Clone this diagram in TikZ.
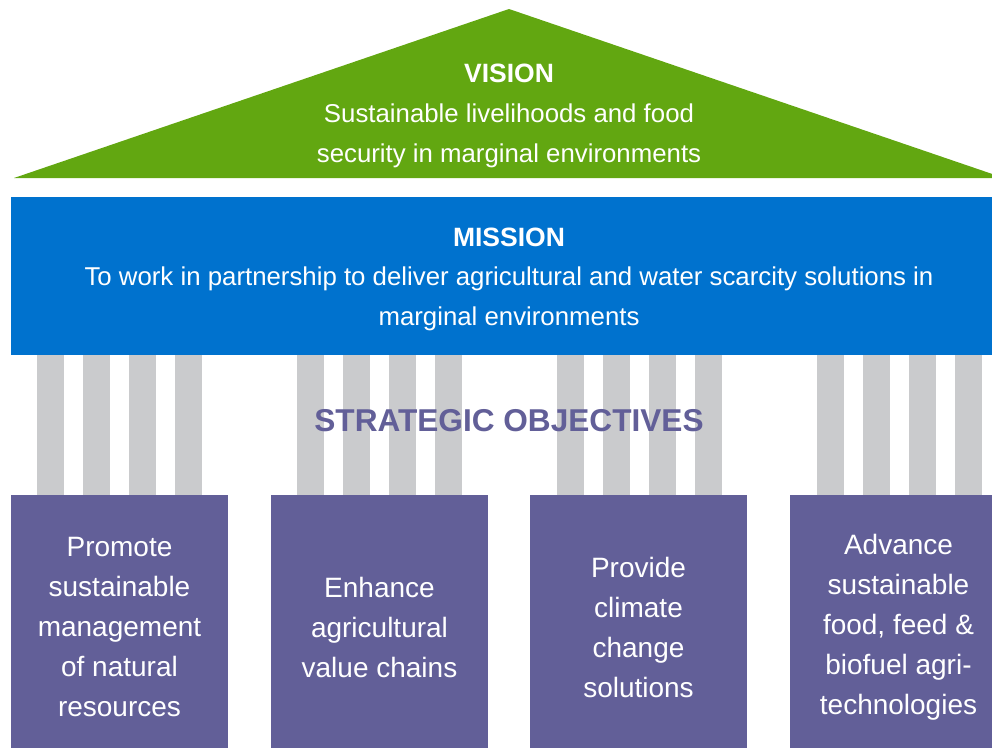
\documentclass[tikz,border=0pt]{standalone}
\usepackage{fontspec}
\setmainfont{Liberation Sans}
\definecolor{visiongreen}{RGB}{98,167,17}
\definecolor{missionblue}{RGB}{0,114,206}
\definecolor{pillargrey}{RGB}{202,203,205}
\definecolor{objpurple}{RGB}{98,95,152}
\tikzset{
  headtext/.style = {text=white, font=\fontsize{26.5}{40}\selectfont\bfseries},
  bodytext/.style = {text=white, align=center, font=\fontsize{25.8}{40}\selectfont},
  objbox/.style = {fill=objpurple, text=white, align=center, inner sep=0pt,
    minimum width=217pt, minimum height=264pt, font=\fontsize{28}{40}\selectfont}
}
\begin{document}
\begin{tikzpicture}[x=1pt, y=-1pt]
    \useasboundingbox (0,0) rectangle (992,747);
    \clip (0,0) rectangle (992,747);

    % roof
    \fill[visiongreen] (14,178) -- (509,9) -- (1004,178) -- cycle;
    \node[headtext] (vision) at (509,73) {VISION};
    \node[bodytext] (visiontext) at (509,136) {Sustainable livelihoods and food\\security in marginal environments};

    % beam
    \fill[missionblue] (11,197) rectangle (1007,355);
    \node[headtext] (mission) at (509,237) {MISSION};
    \node[bodytext] (missiontext) at (509,299) {To work in partnership to deliver agricultural and water scarcity solutions in\\marginal environments};

    % pillars
    \foreach \g in {0,...,3}
      \foreach \p in {0,...,3}
        \fill[pillargrey] ({37+260*\g+46*\p},355) rectangle ++(27,140);

    \node[text=objpurple, font=\fontsize{31.6}{36}\selectfont\bfseries] (strategic) at (509,421) {STRATEGIC OBJECTIVES};

    % objectives
    \node[objbox] (obj1) at (119.5,627) {Promote\\sustainable\\management\\of natural\\resources};
    \node[objbox] (obj2) at (379.5,627) {Enhance\\agricultural\\value chains};
    \node[objbox] (obj3) at (638.5,627) {Provide\\climate\\change\\solutions};
    \node[objbox] (obj4) at (898.5,627) {Advance\\sustainable\\food, feed \&\\biofuel agri-\\technologies};

\end{tikzpicture}
\end{document}
